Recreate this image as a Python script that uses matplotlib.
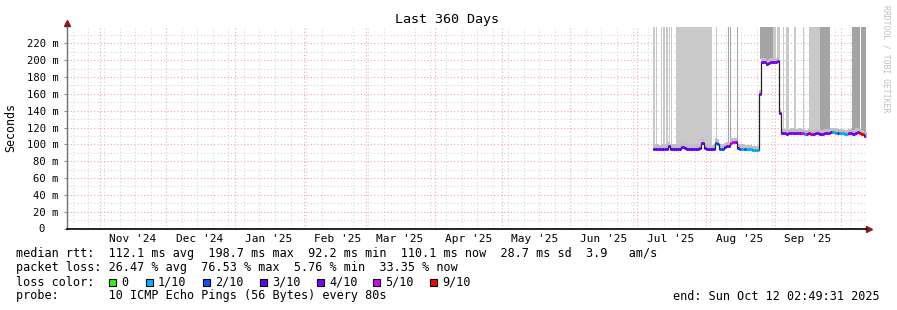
import matplotlib
matplotlib.use('Agg')
import matplotlib.pyplot as plt
import matplotlib.dates as mdates
from matplotlib.patches import Rectangle
import numpy as np
import pandas as pd

plt.rcParams['font.family'] = ['DejaVu Sans Mono']

t_end = pd.Timestamp('2025-10-12 02:49:31')
t_start = t_end - pd.Timedelta(days=360)

# daily median rtt in ms, Jul 8 .. Oct 12 2025
days = pd.date_range('2025-07-08', '2025-10-12', freq='D')
median_ms = [95, 95, 95, 94, 95, 95, 95, 98, 95, 95, 95, 95, 95, 97, 96, 95, 95, 95, 95, 95, 95, 96, 102, 96,
             95, 95, 94, 95, 102, 101, 95, 95, 97, 98, 98, 102, 103, 103, 96, 95, 95, 94, 94, 94, 94, 93, 93, 93,
             160, 198, 198, 195, 197, 198, 198,
             198, 199, 137,
             113, 113, 112, 113, 114, 114, 113, 113, 114, 113, 112, 112, 113, 112, 112, 113, 113, 112, 112,
             113, 113, 113, 115, 115, 114, 113, 113,
             113, 112, 112, 113, 113, 112, 114, 115, 113, 112, 110, 110]
# lost pings out of 10
loss = [3, 3, 4, 3, 3, 3, 3, 4, 3, 3, 3, 3, 3, 4, 3, 3, 3, 3, 3, 3, 3, 3, 4, 3,
        3, 3, 3, 3, 2, 2, 2, 2, 3, 3, 3, 5, 5, 4, 3, 2, 1, 2, 1, 1, 1, 1, 1, 1,
        4, 4, 4, 4, 4, 4, 4,
        4, 4, 4,
        4, 4, 4, 3, 4, 4, 4, 4, 4, 5, 1, 4, 4, 9, 4, 4, 4, 3, 4, 4, 4, 4, 4, 1, 1, 4, 1,
        1, 1, 1, 4, 4, 4, 4, 4, 9, 9, 4, 4]

loss_levels = [0, 1, 2, 3, 4, 5, 9]
loss_labels = ['0', '1/10', '2/10', '3/10', '4/10', '5/10', '9/10']
loss_colors = ['#26ff00', '#00b8ff', '#0059ff', '#5e00ff', '#7e00ff', '#dd00ff', '#ff0000']

# smoke: periods where pings went off the top of the graph
smoke_start = ['2025-07-08 05:00', '2025-07-09 12:00', '2025-07-10 17:00', '2025-07-11 19:00',
               '2025-07-12 22:00', '2025-07-14 00:00', '2025-07-15 10:00', '2025-07-16 07:00',
               '2025-07-18 12:00', '2025-08-05 12:00', '2025-08-10 22:00', '2025-08-11 19:00',
               '2025-08-14 22:00', '2025-08-25 06:00', '2025-08-31 02:00', '2025-09-01 22:00',
               '2025-09-04 14:00', '2025-09-05 22:00', '2025-09-09 12:00', '2025-09-13 14:00',
               '2025-09-16 07:00', '2025-09-21 05:00', '2025-10-06 00:00', '2025-10-10 02:00']
smoke_end = ['2025-07-09 07:00', '2025-07-10 00:00', '2025-07-11 02:00', '2025-07-12 05:00',
             '2025-07-13 10:00', '2025-07-14 22:00', '2025-07-15 19:00', '2025-07-16 17:00',
             '2025-08-03 17:00', '2025-08-05 22:00', '2025-08-11 07:00', '2025-08-12 05:00',
             '2025-08-15 07:00', '2025-08-31 02:00', '2025-09-01 16:00', '2025-09-03 06:00',
             '2025-09-05 00:00', '2025-09-07 07:00', '2025-09-10 10:00', '2025-09-14 00:00',
             '2025-09-21 05:00', '2025-09-25 17:00', '2025-10-09 14:00', '2025-10-12 02:49']
smoke_dark = [0, 0, 0, 0, 0, 0, 0, 0, 0, 0, 1, 1, 1, 1, 0, 0, 0, 0, 0, 0, 0, 1, 1, 1]

W, H = 897, 310
fig = plt.figure(figsize=(W / 100, H / 100), dpi=100)
ax = fig.add_axes([66.5 / W, (H - 228.5) / H, (866 - 66.5) / W, (228.5 - 27.2) / H])

med = np.array(median_ms) / 1000.0
x_ext = list(days) + [days[-1] + pd.Timedelta(days=1)]
m_ext = np.append(med, med[-1])

ax.set_xlim(t_start, t_end)
ax.set_ylim(0, 0.2393)

# smoke columns, from just above the median up past the top
for s, e, dk in zip(smoke_start, smoke_end, smoke_dark):
    s = pd.Timestamp(s)
    e = pd.Timestamp(e)
    xs = [s] + [d for d in days if s < d < e] + [e]
    lo = [med[days.get_loc(x.floor('D'))] + 0.004 for x in xs[:-1]]
    lo = lo + [lo[-1]]
    # the step up on Aug 25 is covered by the next day's level
    if s.floor('D') == pd.Timestamp('2025-08-25'):
        lo[0] = lo[1]
    ax.fill_between(xs, lo, [0.3] * len(xs), step='post', color='#a4a4a4' if dk else '#c9c9c9',
                    lw=0, zorder=2)

# smoke band around the median
ax.fill_between(x_ext, m_ext - 0.002, m_ext + 0.005, step='post', color='#c0c0c0', lw=0, zorder=2)

# median line
ax.step(x_ext, m_ext, where='post', color='#202020', lw=0.9, zorder=3)
cmap = dict(zip(loss_levels, loss_colors))
ax.hlines(med, days, days + pd.Timedelta(days=1), colors=[cmap[l] for l in loss], lw=2.2, zorder=4)

# grid
ax.set_axisbelow(True)
ax.yaxis.set_major_locator(matplotlib.ticker.MultipleLocator(0.02))
ax.yaxis.set_minor_locator(matplotlib.ticker.MultipleLocator(0.01))
ax.grid(which='minor', axis='y', color='#d6d6d6', ls=(0, (1, 2)), lw=0.8)
ax.grid(which='major', axis='y', color='#f4a8a8', ls=(0, (1, 2)), lw=0.8)
ax.xaxis.set_major_locator(mdates.MonthLocator(bymonthday=16))
ax.xaxis.set_major_formatter(mdates.DateFormatter("%b '%y"))
ax.xaxis.set_minor_locator(mdates.WeekdayLocator(byweekday=mdates.SU))
ax.grid(which='minor', axis='x', color='#d6d6d6', ls=(0, (1, 2)), lw=0.8)
for m in pd.date_range('2024-11-01', '2025-10-01', freq='MS'):
    ax.axvline(m, color='#f4a8a8', ls=(0, (1, 2)), lw=0.8, zorder=0.5)

yt = np.arange(0, 0.2301, 0.02)
ax.set_yticks(yt)
ax.set_yticklabels(['0  ' if v == 0 else '%d m' % round(v * 1000) for v in yt])
ax.tick_params(axis='y', which='major', length=2.5, width=0.8, color='#909090', pad=3.2, labelsize=7.6)
ax.tick_params(axis='y', which='minor', length=0)
ax.tick_params(axis='x', which='both', length=0, pad=4, labelsize=8)

for sp in ['top', 'right']:
    ax.spines[sp].set_visible(False)
ax.spines['left'].set_color('#707070')
ax.spines['left'].set_linewidth(1.0)
ax.spines['bottom'].set_color('#000000')
ax.spines['bottom'].set_linewidth(1.2)
ax.plot([0, 0], [1, 1.02], color='#707070', lw=1.0, transform=ax.transAxes, clip_on=False)
ax.plot([1, 1.004], [0, 0], color='#000000', lw=1.2, transform=ax.transAxes, clip_on=False)
ax.plot([0], [1.02], marker='^', ms=4.5, color='#8b1a1a', transform=ax.transAxes, clip_on=False)
ax.plot([1.004], [0], marker='>', ms=4.5, color='#8b1a1a', transform=ax.transAxes, clip_on=False)

# texts
fs = 8.5
fig.text(447 / W, 1 - 19 / H, 'Last 360 Days', ha='center', va='center', fontsize=9.6)
fig.text(11 / W, 1 - 127 / H, 'Seconds', rotation=90, ha='center', va='center', fontsize=8.4)
fig.text(886 / W, 1 - 5 / H, 'RRDTOOL / TOBI OETIKER', rotation=-90, ha='center', va='top',
         fontsize=5.9, color='#c0c0c0')

fig.text(16 / W, 1 - 254 / H,
         'median rtt:  112.1 ms avg  198.7 ms max  92.2 ms min  110.1 ms now  28.7 ms sd  3.9   am/s',
         ha='left', va='center', fontsize=fs)
fig.text(16 / W, 1 - 268 / H,
         'packet loss: 26.47 % avg  76.53 % max  5.76 % min  33.35 % now',
         ha='left', va='center', fontsize=fs)
fig.text(16 / W, 1 - 282 / H, 'loss color:', ha='left', va='center', fontsize=fs)
box_x = [109, 146, 203, 260, 317, 373, 430]
for bx, lab, col in zip(box_x, loss_labels, loss_colors):
    fig.patches.append(Rectangle((bx / W, 1 - 286 / H), 7 / W, 7 / H, transform=fig.transFigure,
                                 facecolor=col, edgecolor='black', lw=0.8))
    fig.text((bx + 12) / W, 1 - 282 / H, lab, ha='left', va='center', fontsize=fs)
fig.text(16 / W, 1 - 296 / H, 'probe:       10 ICMP Echo Pings (56 Bytes) every 80s',
         ha='left', va='center', fontsize=fs)
fig.text(880 / W, 1 - 296 / H, 'end: Sun Oct 12 02:49:31 2025', ha='right', va='center', fontsize=fs)

fig.savefig('out.png', dpi=100, facecolor='white')
